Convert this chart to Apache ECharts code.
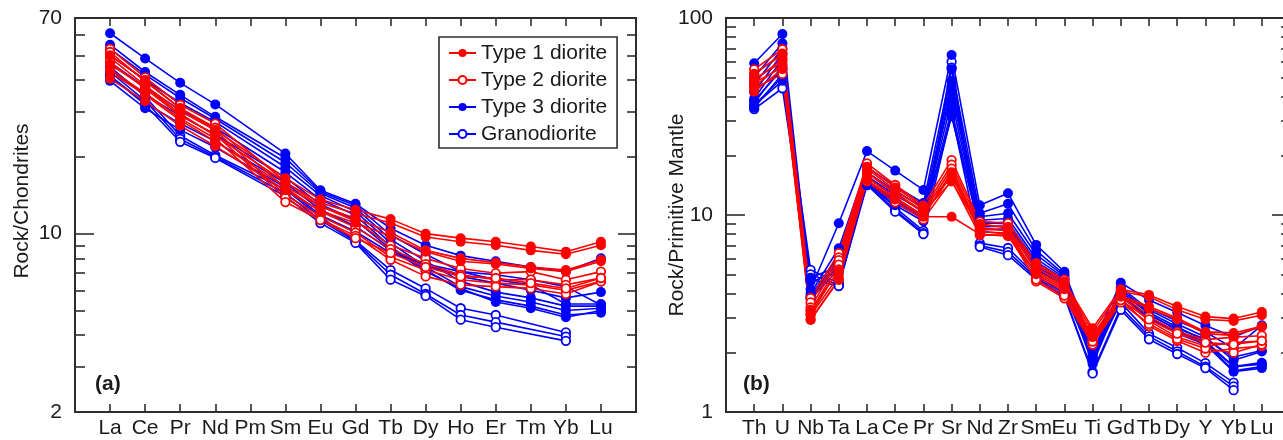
<!DOCTYPE html>
<html>
<head>
<meta charset="utf-8">
<script src="https://cdn.jsdelivr.net/npm/echarts@6/dist/echarts.min.js"></script>
<style>
  html, body { margin: 0; padding: 0; background: #fff; }
  #chart { width: 1283px; height: 440px; }
</style>
</head>
<body>
<div id="chart"></div>
<script>
// ---- (a) chondrite-normalised REE ----
const reeElements = ['La', 'Ce', 'Pr', 'Nd', 'Pm', 'Sm', 'Eu', 'Gd', 'Tb', 'Dy', 'Ho', 'Er', 'Tm', 'Yb', 'Lu'];
const reeTickLabels = [2, 10, 70];
const reeMajorTicks = [10];
const reeMinorTicks = [3, 4, 5, 6, 7, 8, 9, 20, 30, 40, 50, 60];

const reeType1 = [
  [50, 40, 31, 25.5, null, 16.5, 13.6, 12.4, 11.4, 10.0, 9.6, 9.3, 8.9, 8.5, 9.3],
  [46, 37.5, 29.5, 24.2, null, 15.9, 13.2, 12.0, 11.0, 9.7, 9.3, 9.0, 8.6, 8.3, 9.0],
  [43, 35, 27.8, 23, null, 15.3, 12.8, 11.5, 10.1, 8.6, 8.0, 7.7, 7.4, 7.2, 7.9],
  [40.5, 33, 26.5, 22, null, 14.8, 12.3, 11.0, 9.8, 8.5, 7.8, 7.6, 7.3, 7.1, 7.8]
];
const reeType2 = [
  [53, 41, 32, 27, null, 16.0, 12.8, 11.2, 9.0, 8.0, 7.3, 7.0, 7.1, 6.6, 7.1],
  [51.5, 39.5, 31, 26, null, 15.1, 12.2, 10.6, 8.7, 7.6, 6.9, 6.6, 6.6, 6.3, 6.7],
  [49, 38, 30.2, 25.4, null, 14.2, 11.7, 10.1, 8.1, 7.2, 6.6, 6.4, 6.3, 6.0, 6.5],
  [47, 37, 29, 24.5, null, 13.8, 11.4, 9.8, 7.9, 6.8, 6.3, 6.2, 6.1, 5.8, 6.5],
  [44, 35.5, 28.3, 23.6, null, 13.3, 11.3, 9.6, 8.4, 7.4, 6.8, 6.7, 6.4, 6.1, 6.7]
];
const reeType3 = [
  [61, 48.6, 39, 32.1, null, 20.6, 14.8, 13.1, 10.5, 9.0, 8.2, 7.8, 7.4, 7.1, 8.0],
  [55, 43, 35, 28.7, null, 19.8, 14.6, 12.9, 9.9, 8.3, 7.1, 6.6, 6.3, 5.3, 5.3],
  [53, 42, 34, 28.2, null, 19.0, 14.4, 12.6, 9.5, 7.8, 6.5, 5.9, 5.6, 5.2, 5.2],
  [50, 40, 32.5, 27.4, null, 18.2, 14.1, 12.2, 9.2, 7.4, 6.2, 5.7, 5.4, 5.0, 5.1],
  [47, 37.5, 30.5, 26, null, 17.4, 13.6, 11.8, 8.9, 7.2, 6.0, 5.5, 5.2, 4.8, 4.9],
  [44, 35, 29, 24.5, null, 16.6, 13.0, 11.3, 8.7, 7.1, 6.1, 5.4, 5.1, 4.7, 5.0],
  [41.5, 32.5, 27, 23, null, 15.8, 12.4, 10.7, 8.6, 7.5, 6.8, 6.4, 6.0, 5.6, 5.9],
  [39.7, 31, 25.5, 21.8, null, 15.2, 11.8, 10.2, 8.4, 7.6, 7.1, 6.9, 6.6, 6.2, 5.25]
];
const reeGranodiorite = [
  [45, 34.5, 24.2, 20.3, null, 14.9, 11.6, 9.4, 7.2, 6.1, 5.1, 4.8, null, 4.1, null],
  [43, 33.2, 23.5, 20.0, null, 14.4, 11.3, 9.3, 6.9, 5.8, 4.8, 4.5, null, 3.95, null],
  [41.5, 32, 22.9, 19.8, null, 14.0, 11.0, 9.2, 6.6, 5.7, 4.6, 4.3, null, 3.8, null]
];

// ---- (b) primitive-mantle-normalised trace elements ----
const spiderElements = ['Th', 'U', 'Nb', 'Ta', 'La', 'Ce', 'Pr', 'Sr', 'Nd', 'Zr', 'Sm', 'Eu', 'Ti', 'Gd', 'Tb', 'Dy', 'Y', 'Yb', 'Lu'];
const spiderTickLabels = [1, 10, 100];
const spiderMajorTicks = [10];
const spiderMinorTicks = [2, 3, 4, 5, 6, 7, 8, 9, 20, 30, 40, 50, 60, 70, 80, 90];

const spiderType1 = [
  [52, 66, 3.3, 5.2, 17.6, 13.8, 11.0, 15.5, 9.0, 8.6, 5.6, 4.6, 2.66, 4.2, 3.93, 3.43, 3.05, 2.98, 3.22],
  [48, 62, 3.1, 4.9, 16.5, 13.0, 10.4, 14.8, 8.6, 8.3, 5.4, 4.5, 2.55, 4.1, 3.85, 3.3, 2.95, 2.9, 3.1],
  [45, 58, 2.95, 4.7, 15.5, 12.3, 9.9, 16.5, 8.3, 8.0, 5.1, 4.3, 2.45, 3.9, 3.43, 3.0, 2.55, 2.52, 2.72],
  [42.3, 55, 2.93, 4.68, 15.0, 12.0, 9.8, 9.8, 8.0, 7.8, 5.0, 4.2, 2.4, 3.85, 3.35, 2.95, 2.5, 2.45, 2.7]
];
const spiderType2 = [
  [54.9, 69.4, 3.79, 6.4, 18.3, 14.2, 11.2, 19.0, 9.25, 9.1, 5.7, 4.7, 2.3, 4.0, 3.05, 2.55, 2.33, 2.4, 2.44],
  [52, 65, 3.6, 6.1, 17.2, 13.4, 10.7, 18.0, 8.9, 8.7, 5.2, 4.4, 2.25, 3.9, 2.9, 2.4, 2.16, 2.25, 2.29],
  [49, 60, 3.4, 5.9, 16.4, 12.8, 10.3, 17.2, 8.5, 8.4, 4.9, 4.1, 2.23, 3.75, 2.73, 2.3, 2.0, 2.1, 2.16],
  [47, 56, 3.25, 5.6, 15.6, 12.2, 9.9, 16.0, 8.2, 8.1, 4.6, 3.78, 2.2, 3.6, 2.8, 2.35, 2.1, 2.0, 2.2],
  [44, 52, 3.15, 5.3, 14.8, 11.6, 9.5, 15.0, 7.9, 7.9, 4.7, 3.9, 2.28, 3.7, 2.95, 2.5, 2.25, 2.2, 2.3]
];
const spiderType3 = [
  [58.9, 83, 4.2, 9.08, 21.1, 16.8, 13.4, 64.9, 11.2, 12.9, 7.05, 5.15, 2.2, 4.53, 3.7, 3.2, 2.75, 2.4, 2.75],
  [50, 74.4, 4.0, 6.78, 17.5, 14.0, 11.5, 55, 10.2, 11.4, 6.6, 5.0, 2.0, 4.3, 3.3, 2.8, 2.4, 1.83, 2.03],
  [46, 70, 3.9, 6.2, 16.5, 13.2, 10.9, 48, 9.8, 10.2, 6.3, 4.9, 1.95, 4.2, 3.2, 2.7, 2.3, 1.7, 1.78],
  [42, 66, 3.85, 5.9, 15.8, 12.6, 10.5, 42, 9.4, 9.6, 6.0, 4.8, 1.9, 4.1, 3.15, 2.6, 2.25, 1.62, 1.7],
  [39, 62, 3.8, 5.6, 15.0, 12.0, 10.0, 38, 9.0, 9.2, 5.8, 4.7, 1.85, 4.0, 3.0, 2.5, 2.2, 1.6, 1.67],
  [37, 57, 3.75, 5.3, 14.5, 11.5, 9.6, 34.1, 8.7, 8.8, 5.5, 4.5, 1.8, 3.9, 3.0, 2.55, 2.25, 1.7, 1.75],
  [35, 52, 4.6, 5.1, 14.2, 11.2, 9.3, 31.6, 8.4, 8.5, 5.3, 4.4, 1.75, 3.8, 3.1, 2.65, 2.35, 1.9, 2.05],
  [36, 48, 4.8, 5.5, 14.8, 11.8, 9.8, 45, 9.2, 9.0, 5.6, 4.6, 1.9, 3.95, 3.35, 2.9, 2.55, 2.1, 2.75]
];
const spiderGranodiorite = [
  [38, 55, 5.26, 4.5, 15.2, 10.9, 8.3, 60, 7.2, 6.8, 4.9, 4.0, 1.87, 3.6, 2.5, 2.12, 1.77, 1.41, null],
  [36, 50, 5.0, 4.4, 14.6, 10.6, 8.1, 56, 7.0, 6.5, 4.8, 3.9, 1.6, 3.4, 2.42, 2.03, 1.7, 1.35, null],
  [34.5, 44, 4.7, 4.36, 14.2, 10.4, 8.0, 33, 6.9, 6.25, 4.7, 3.85, 1.57, 3.3, 2.34, 1.97, 1.67, 1.29, null]
];

const groupNames = ['Type 1 diorite', 'Type 2 diorite', 'Type 3 diorite', 'Granodiorite'];
const RED = '#ff0000';
const BLUE = '#0000ff';
const AXIS = '#2e2e2e';
const TEXT = '#1a1a1a';
const FONT = '"Liberation Sans", Arial, sans-serif';

const chart = echarts.init(document.getElementById('chart'), null, { renderer: 'canvas' });

function sampleSeries(name, rows, panel, color, filled) {
  return rows.map(function (row) {
    const points = [];
    row.forEach(function (v, i) {
      if (v !== null) points.push([i + 1, v]);
    });
    return {
      type: 'line',
      name: name,
      xAxisIndex: panel * 2,
      yAxisIndex: panel * 4,
      data: points,
      symbol: 'circle',
      symbolSize: filled ? 10 : 8.5,
      showSymbol: true,
      lineStyle: { color: color, width: 1.6 },
      itemStyle: filled
        ? { color: color, borderWidth: 0 }
        : { color: '#ffffff', borderColor: color, borderWidth: 1.8 },
      emphasis: { disabled: true },
      silent: true,
      animation: false
    };
  });
}

function xAxes(panel, names) {
  const base = {
    type: 'value',
    gridIndex: panel,
    min: 0,
    max: names.length + 1,
    interval: 1,
    splitLine: { show: false },
    axisLine: { show: true, onZero: false, lineStyle: { color: AXIS, width: 2 } },
    axisTick: { show: true, inside: true, length: 8, lineStyle: { color: AXIS, width: 1.6 } }
  };
  return [
    Object.assign({}, base, {
      position: 'bottom',
      axisLabel: {
        show: true,
        margin: 6,
        color: TEXT,
        fontFamily: FONT,
        fontSize: 21,
        formatter: function (v) { return names[v - 1] || ''; }
      }
    }),
    Object.assign({}, base, { position: 'top', axisLabel: { show: false } })
  ];
}

function yAxes(panel, min, max, labels, major, minor) {
  const base = {
    type: 'log',
    logBase: 10,
    gridIndex: panel,
    min: min,
    max: max,
    splitLine: { show: false },
    minorTick: { show: false }
  };
  const line = { show: true, onZero: false, lineStyle: { color: AXIS, width: 2 } };
  const tickStyle = { color: AXIS, width: 1.6 };
  return [
    Object.assign({}, base, {
      position: 'left',
      axisLine: line,
      axisTick: { show: true, inside: true, length: 19, customValues: major, lineStyle: tickStyle },
      axisLabel: { show: true, customValues: labels, margin: 13, color: TEXT, fontFamily: FONT, fontSize: 21 }
    }),
    Object.assign({}, base, {
      position: 'left',
      axisLine: { show: false, onZero: false },
      axisTick: { show: true, inside: true, length: 10, customValues: minor, lineStyle: tickStyle },
      axisLabel: { show: false }
    }),
    Object.assign({}, base, {
      position: 'right',
      axisLine: line,
      axisTick: { show: true, inside: true, length: 18, customValues: major, lineStyle: tickStyle },
      axisLabel: { show: false }
    }),
    Object.assign({}, base, {
      position: 'right',
      axisLine: { show: false, onZero: false },
      axisTick: { show: true, inside: true, length: 9, customValues: minor, lineStyle: tickStyle },
      axisLabel: { show: false }
    })
  ];
}

const series = [].concat(
  sampleSeries(groupNames[3], reeGranodiorite, 0, BLUE, false),
  sampleSeries(groupNames[2], reeType3, 0, BLUE, true),
  sampleSeries(groupNames[1], reeType2, 0, RED, false),
  sampleSeries(groupNames[0], reeType1, 0, RED, true),
  sampleSeries(groupNames[3], spiderGranodiorite, 1, BLUE, false),
  sampleSeries(groupNames[2], spiderType3, 1, BLUE, true),
  sampleSeries(groupNames[1], spiderType2, 1, RED, false),
  sampleSeries(groupNames[0], spiderType1, 1, RED, true)
);

chart.setOption({
  animation: false,
  backgroundColor: '#ffffff',
  grid: [
    { left: 75, top: 18, width: 561, height: 394, containLabel: false, outerBoundsMode: 'none' },
    { left: 726, top: 18, width: 564, height: 394, containLabel: false, outerBoundsMode: 'none' }
  ],
  xAxis: [].concat(xAxes(0, reeElements), xAxes(1, spiderElements)),
  yAxis: [].concat(
    yAxes(0, 2, 70, reeTickLabels, reeMajorTicks, reeMinorTicks),
    yAxes(1, 1, 100, spiderTickLabels, spiderMajorTicks, spiderMinorTicks)
  ),
  legend: {
    data: groupNames,
    orient: 'vertical',
    left: 439,
    top: 37,
    padding: [5, 10, 3, 9],
    itemGap: 5,
    itemWidth: 27,
    itemHeight: 10,
    selectedMode: false,
    backgroundColor: '#ffffff',
    borderColor: AXIS,
    borderWidth: 1.6,
    borderRadius: 0,
    textStyle: { color: TEXT, fontFamily: FONT, fontSize: 21, lineHeight: 22 }
  },
  graphic: [
    {
      type: 'text', x: 22, y: 201, rotation: Math.PI / 2, silent: true,
      style: { text: 'Rock/Chondrites', font: '21px ' + FONT, fill: TEXT, align: 'center', verticalAlign: 'middle', textAlign: 'center', textVerticalAlign: 'middle' }
    },
    {
      type: 'text', x: 677, y: 215, rotation: Math.PI / 2, silent: true,
      style: { text: 'Rock/Primitive Mantle', font: '21px ' + FONT, fill: TEXT, align: 'center', verticalAlign: 'middle', textAlign: 'center', textVerticalAlign: 'middle' }
    },
    {
      type: 'text', x: 95, y: 384, silent: true,
      style: { text: '(a)', font: 'bold 21px ' + FONT, fill: TEXT, align: 'left', verticalAlign: 'middle', textAlign: 'left', textVerticalAlign: 'middle' }
    },
    {
      type: 'text', x: 743, y: 384, silent: true,
      style: { text: '(b)', font: 'bold 21px ' + FONT, fill: TEXT, align: 'left', verticalAlign: 'middle', textAlign: 'left', textVerticalAlign: 'middle' }
    }
  ],
  series: series
});
</script>
</body>
</html>
